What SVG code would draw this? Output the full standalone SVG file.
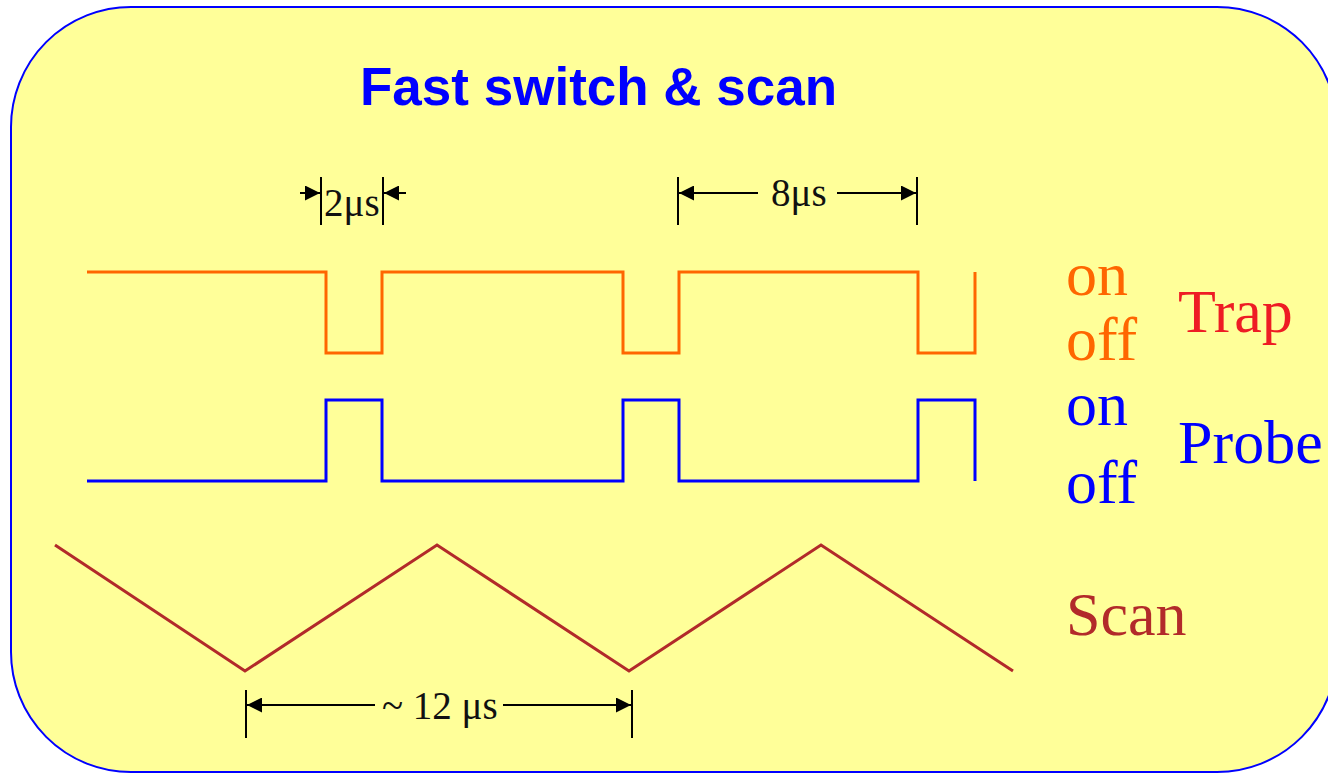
<svg xmlns="http://www.w3.org/2000/svg" width="1328" height="773" viewBox="0 0 1328 773">
<defs>
<marker id="ah" viewBox="0 0 15 15" refX="15" refY="7.5" markerWidth="15" markerHeight="15" markerUnits="userSpaceOnUse" orient="auto">
<path d="M0,0 L15,7.5 L0,15 Z" fill="#000"/>
</marker>
</defs>
<style>
.wave{fill:none;stroke-width:3;stroke-linejoin:miter}
.dim{stroke:#000;stroke-width:2;fill:none}
.dl{font-family:"Liberation Serif","Times New Roman",serif;font-size:39px;fill:#111}
.lab{font-family:"Liberation Serif","Times New Roman",serif;font-size:62px}
</style>
<rect x="11" y="7" width="1326" height="765" rx="120" ry="120" fill="#FFFF99" stroke="#0000FF" stroke-width="2"/>
<g id="title">
<text x="360" y="105" font-family="'Liberation Sans',Arial,sans-serif" font-weight="bold" font-size="53" fill="#0000FF">Fast switch &amp; scan</text>
</g>
<g id="trap">
<polyline class="wave" stroke="#FF6600" points="87,272 326,272 326,353 382,353 382,272 623,272 623,353 679,353 679,272 918,272 918,353 975,353 975,272"/>
</g>
<g id="probe">
<polyline class="wave" stroke="#0000FF" points="87,481 326,481 326,400 382,400 382,481 623,481 623,400 679,400 679,481 918,481 918,400 975,400 975,481"/>
</g>
<g id="scan">
<polyline class="wave" stroke="#B22A2A" points="55,545 245,671 437,545 629,671 821,545 1013,671"/>
</g>
<g id="connectors">
<g id="dim-2us">
<line class="dim" x1="321" y1="177" x2="321" y2="225"/>
<line class="dim" x1="383" y1="177" x2="383" y2="225"/>
<line class="dim" x1="300" y1="193" x2="320" y2="193" marker-end="url(#ah)"/>
<line class="dim" x1="406" y1="193" x2="384" y2="193" marker-end="url(#ah)"/>
</g>
<g id="dim-8us">
<line class="dim" x1="678" y1="177" x2="678" y2="225"/>
<line class="dim" x1="917" y1="177" x2="917" y2="225"/>
<line class="dim" x1="758" y1="193" x2="679" y2="193" marker-end="url(#ah)"/>
<line class="dim" x1="837" y1="193" x2="916" y2="193" marker-end="url(#ah)"/>
</g>
<g id="dim-12us">
<line class="dim" x1="246" y1="690" x2="246" y2="738"/>
<line class="dim" x1="632" y1="690" x2="632" y2="738"/>
<line class="dim" x1="375" y1="705" x2="247" y2="705" marker-end="url(#ah)"/>
<line class="dim" x1="503" y1="705" x2="631" y2="705" marker-end="url(#ah)"/>
</g>
</g>
<g id="dim-labels">
<text class="dl" x="324" y="216">2μs</text>
<text class="dl" x="771" y="206">8μs</text>
<text class="dl" x="382" y="719">~ 12 μs</text>
</g>
<g id="trap-labels">
<text class="lab" x="1066" y="295" fill="#FF6600">on</text>
<text class="lab" x="1066" y="360" fill="#FF6600">off</text>
<text class="lab" x="1178" y="332" fill="#EE1C24" font-size="63">Trap</text>
</g>
<g id="probe-labels">
<text class="lab" x="1066" y="425" fill="#0000FF">on</text>
<text class="lab" x="1066" y="503" fill="#0000FF">off</text>
<text class="lab" x="1178" y="463" fill="#0000FF">Probe</text>
</g>
<g id="scan-label">
<text class="lab" x="1066" y="635" fill="#B22A2A">Scan</text>
</g>
</svg>
